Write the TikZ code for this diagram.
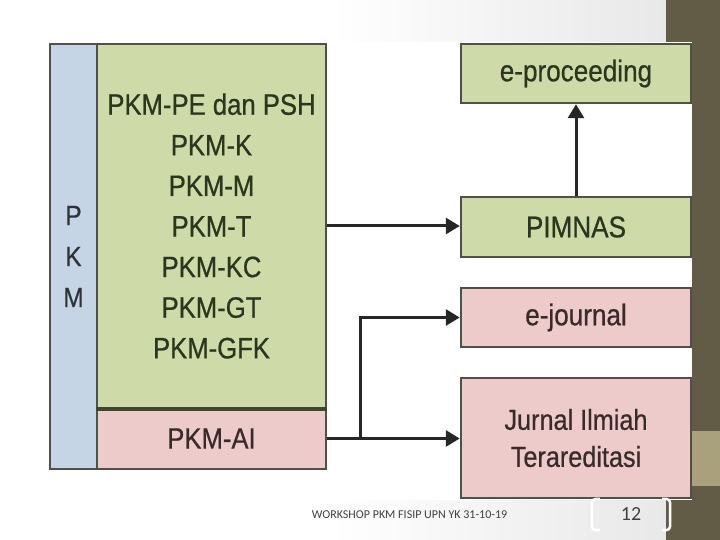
\documentclass[tikz,border=0pt]{standalone}
\usepackage{fontspec}
\setmainfont{Liberation Sans}[FakeStretch=0.87,FakeBold=0.6]
\newfontfamily\footfont{Carlito}
\usetikzlibrary{arrows.meta}
\definecolor{boxgreen}{HTML}{CEDBA8}
\definecolor{boxpink}{HTML}{EDCBCB}
\definecolor{boxblue}{HTML}{C6D5E5}
\definecolor{boxline}{HTML}{4F5046}
\definecolor{sepline}{HTML}{3F4530}
\definecolor{txtgreen}{HTML}{2A361E}
\definecolor{txtpink}{HTML}{3A2B2B}
\definecolor{txtblue}{HTML}{2F3338}
\definecolor{bandbrown}{HTML}{625B45}
\definecolor{bandkhaki}{HTML}{A8A17C}
\definecolor{footgray}{HTML}{404040}
\tikzset{
    blk/.style args={#1 and #2}{draw=boxline, line width=2.5pt, inner sep=0pt,
        minimum width=#1, minimum height=#2, align=center},
    greenblk/.style={fill=boxgreen, text=txtgreen},
    pinkblk/.style={fill=boxpink, text=txtpink},
    conn/.style={draw=black!85, line width=3pt, -{Triangle[length=14pt,width=16pt]}},
}

\begin{document}
\begin{tikzpicture}[x=1pt,y=1pt,yscale=-1,xscale=1]
\useasboundingbox (0,0) rectangle (720,540);
%Background
\fill[white] (0,0) rectangle (720,540);
\shade[left color=white, right color=gray!18] (330,0) rectangle (666,540);
\fill[white] (45,42) rectangle (692,500);
\fill[bandbrown] (666,0) rectangle (720,42);
\fill[bandbrown] (692,42) rectangle (720,540);
\fill[bandbrown] (666,500) rectangle (692,540);
\fill[bandkhaki] (692,431) rectangle (720,486);
%Left block
\node[blk={47pt and 425pt}, fill=boxblue, text=txtblue,
      font=\fontsize{28}{41}\selectfont] (pkm) at (73.5,256.5) {P\\K\\M};
\node[blk={229pt and 364pt}, greenblk, font=\fontsize{29.5}{40.6}\selectfont]
      (pkmgreen) at (211.5,226) {PKM-PE dan PSH\\PKM-K\\PKM-M\\PKM-T\\PKM-KC\\PKM-GT\\PKM-GFK};
\node[blk={229pt and 61pt}, pinkblk, font=\fontsize{29.5}{33}\selectfont]
      (pkmai) at (211.5,438.5) {PKM-AI};
\draw[sepline, line width=4pt] (pkmgreen.south west) -- (pkmgreen.south east);
%Right blocks
\node[blk={230pt and 59pt}, greenblk, font=\fontsize{30}{36}\selectfont]
      (eproc) at (576,73.5) {e-proceeding};
\node[blk={230pt and 60pt}, greenblk, font=\fontsize{30}{36}\selectfont]
      (pimnas) at (576,227) {PIMNAS};
\node[blk={230pt and 59pt}, pinkblk, font=\fontsize{30}{36}\selectfont]
      (ejournal) at (576,317.5) {e-journal};
\node[blk={230pt and 120pt}, pinkblk, font=\fontsize{29}{37}\selectfont]
      (jurnal) at (576,438) {Jurnal Ilmiah\\Terareditasi};
%Straight Lines
\draw[conn] (pkmgreen.east) -- (pkmgreen.east -| pimnas.west);
\draw[conn] (pimnas.north) -- (eproc.south);
\draw[conn] (pkmai.east) -- (pkmai.east -| jurnal.west);
\coordinate (split) at (360,438.5);
\draw[conn] (split) |- (ejournal.west);
%Footer
\node[font=\footfont\fontsize{12}{14}\selectfont, text=footgray] (foot) at (409.5,515)
      {WORKSHOP PKM FISIP UPN YK 31-10-19};
\node[minimum width=78pt, minimum height=31pt, inner sep=0pt, text=footgray,
      font=\footfont\fontsize{20}{24}\selectfont] (pgnum) at (631,514.5) {12};
\draw[white, line width=2.5pt, rounded corners=4pt]
      ([xshift=8pt]pgnum.north west) -- (pgnum.north west) -- (pgnum.south west) -- ([xshift=8pt]pgnum.south west);
\draw[white, line width=2.5pt, rounded corners=4pt]
      ([xshift=-8pt]pgnum.north east) -- (pgnum.north east) -- (pgnum.south east) -- ([xshift=-8pt]pgnum.south east);
\end{tikzpicture}
\end{document}
